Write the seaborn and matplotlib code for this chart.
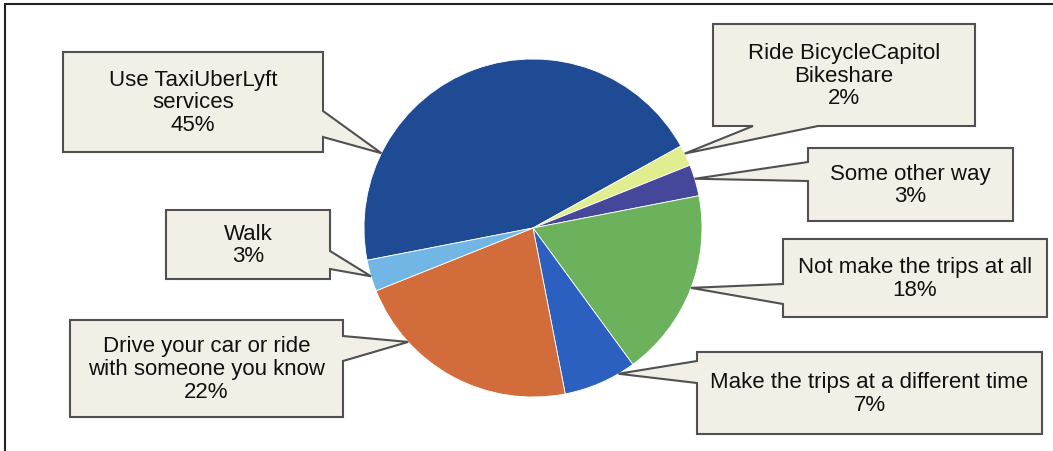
import numpy as np
import matplotlib
matplotlib.use("Agg")
import matplotlib.pyplot as plt
import seaborn as sns
from matplotlib.patches import Polygon

# slices in drawing order (clockwise starting at the left side)
labels = ["Use TaxiUberLyft\nservices", "Ride BicycleCapitol\nBikeshare", "Some other way",
          "Not make the trips at all", "Make the trips at a different time",
          "Drive your car or ride\nwith someone you know", "Walk"]
values = [45, 2, 3, 18, 7, 22, 3]
colors = ["#1f4b94", "#e1ee90", "#45489a", "#6cb25c", "#2c60c0", "#d36c3b", "#72b6e6"]

# callout boxes: left, top, right, bottom (pixels from top-left), side of pointer, pointer base span
boxes = [
    (63, 53, 323, 153, "right", (112, 138)),
    (713, 25, 975, 127, "bottom", (753, 818)),
    (808, 149, 1013, 222, "left", (163, 182)),
    (783, 240, 1047, 318, "left", (285, 305)),
    (697, 353, 1042, 435, "left", (362, 384)),
    (70, 321, 343, 418, "right", (337, 362)),
    (166, 211, 330, 280, "right", (252, 270)),
]
# where along each wedge the leader line touches (0 = clockwise end, 1 = start)
tip_frac = [0.77, 0.6, 0.55, 0.51, 0.77, 0.26, 0.52]

W, H = 1053, 452
sns.set_style("white")
plt.rcParams["font.family"] = ["Liberation Sans", "DejaVu Sans"]

fig = plt.figure(figsize=(W / 100, H / 100), dpi=100)
ax = fig.add_axes([0, 0, 1, 1])

cx, cy, r = 533, H - 229, 169
wedges, _ = ax.pie(values, colors=sns.color_palette(colors), startangle=191, counterclock=False,
                   center=(cx, cy), radius=r,
                   wedgeprops=dict(edgecolor="white", linewidth=0.6))
ax.set_xlim(0, W)
ax.set_ylim(0, H)
ax.set_aspect("equal")
ax.axis("off")

for w, lab, val, box, f in zip(wedges, labels, values, boxes, tip_frac):
    l, t, rr, b, side, (s1, s2) = box
    t, b = H - t, H - b
    ang = np.deg2rad(w.theta1 + f * (w.theta2 - w.theta1))
    tip = (cx + r * np.cos(ang), cy + r * np.sin(ang))
    if side == "right":
        pts = [(l, t), (rr, t), (rr, H - s1), tip, (rr, H - s2), (rr, b), (l, b)]
    elif side == "left":
        pts = [(l, t), (rr, t), (rr, b), (l, b), (l, H - s2), tip, (l, H - s1)]
    else:
        pts = [(l, t), (rr, t), (rr, b), (s2, b), tip, (s1, b), (l, b)]
    ax.add_patch(Polygon(pts, closed=True, facecolor="#f2f0e6", edgecolor="#505050",
                         linewidth=1.5, zorder=3))
    ax.text((l + rr) / 2, (t + b) / 2, f"{lab}\n{val}%", ha="center", va="center",
            fontsize=16, linespacing=1.1, color="#111111", zorder=4)

# outer frame (top and left edges)
ax.plot([5, W], [H - 5, H - 5], color="#222222", lw=1.5, clip_on=False)
ax.plot([5, 5], [H - 5, 0], color="#222222", lw=1.5, clip_on=False)

fig.savefig("out.png", dpi=100)
